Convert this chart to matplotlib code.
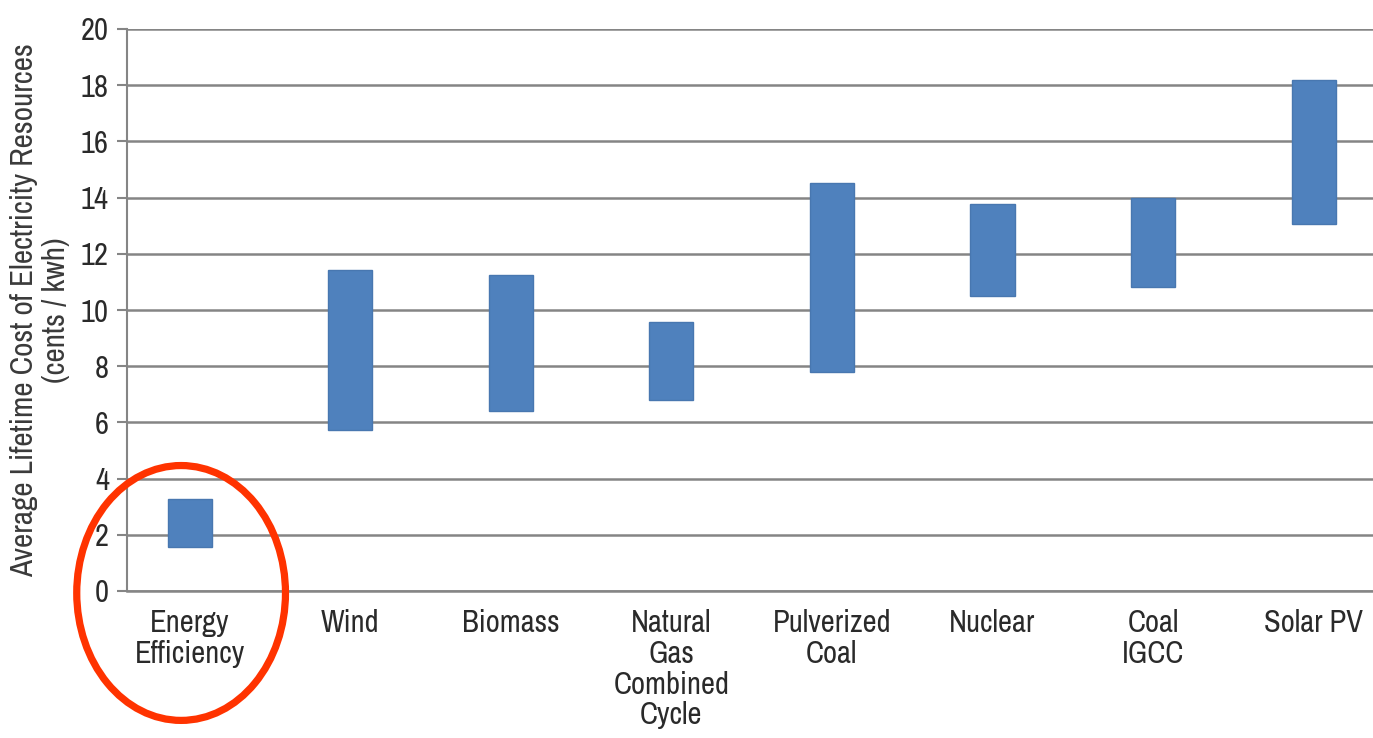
import matplotlib
matplotlib.use("Agg")
import matplotlib.pyplot as plt
from matplotlib.patches import Ellipse
from matplotlib import font_manager

categories = ["Energy\nEfficiency", "Wind", "Biomass", "Natural\nGas\nCombined\nCycle",
              "Pulverized\nCoal", "Nuclear", "Coal\nIGCC", "Solar PV"]
low_cost = [1.55, 5.72, 6.42, 6.80, 7.79, 10.50, 10.81, 13.05]
high_cost = [3.28, 11.42, 11.26, 9.59, 14.51, 13.76, 13.98, 18.19]
y_ticks = [0, 2, 4, 6, 8, 10, 12, 14, 16, 18, 20]

names = {f.name for f in font_manager.fontManager.ttflist}
fam = [n for n in ["Liberation Sans Narrow", "Archivo Narrow", "Roboto Condensed"] if n in names][:1]
plt.rcParams['font.family'] = fam + ["DejaVu Sans"]

W, H = 1373, 738
fig = plt.figure(figsize=(W / 100, H / 100), dpi=100)
ax = fig.add_axes([127 / W, (H - 591) / H, 1 - 127 / W, (591 - 29) / H])

x = list(range(len(categories)))
heights = [h - l for l, h in zip(low_cost, high_cost)]
ax.bar(x, heights, bottom=low_cost, width=0.275, color="#4F81BD",
       edgecolor="#4877B0", linewidth=1, zorder=3)

ax.set_ylim(0, 20)
ax.set_xlim(-0.39, 7.37)
ax.set_yticks(y_ticks)
ax.set_yticklabels([str(v) for v in y_ticks])
ax.set_xticks(x)
ax.set_xticklabels(categories, linespacing=1.12)
ax.grid(axis="y", color="#858585", linewidth=1.8, zorder=1)
for s in ["top", "right"]:
    ax.spines[s].set_visible(False)
ax.spines["left"].set_color("#858585")
ax.spines["left"].set_linewidth(1.5)
ax.spines["bottom"].set_color("#858585")
ax.spines["bottom"].set_linewidth(1.8)
ax.tick_params(axis="y", length=7, width=1.5, color="#858585", labelsize=22,
               labelcolor="#2a2a2a", pad=6)
ax.tick_params(axis="x", length=0, labelsize=22, labelcolor="#2a2a2a", pad=13)

ax.set_ylabel("Average Lifetime Cost of Electricity Resources\n(cents / kwh)",
              fontsize=22.5, color="#3a3a3a", linespacing=1.15, labelpad=8)

ell = Ellipse((-0.053, -0.07), 1.30, 9.07, fill=False, edgecolor="#FF3300",
              linewidth=5.2, clip_on=False, zorder=5)
ax.add_patch(ell)

fig.savefig("out.png", dpi=100)
